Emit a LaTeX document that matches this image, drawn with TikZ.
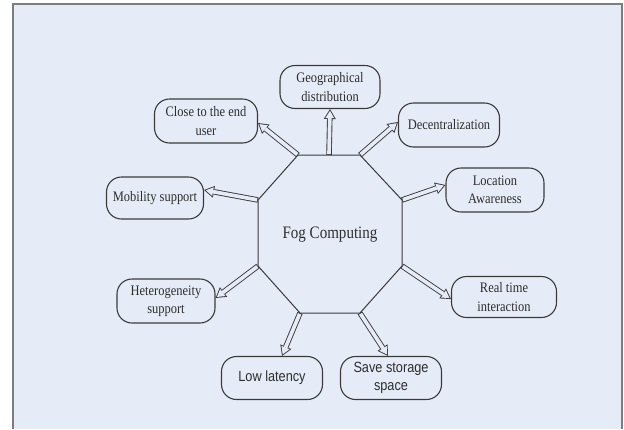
\documentclass[tikz,border=0pt]{standalone}
\usepackage{fontspec}
\setmainfont{Liberation Serif}[FakeStretch=0.86]
\newfontfamily\arialfont{Liberation Sans}[FakeStretch=0.86]
\usetikzlibrary{arrows.meta,positioning}
\definecolor{bgblue}{RGB}{230,236,247}
\definecolor{linegray}{RGB}{58,58,58}
\definecolor{textgray}{RGB}{45,45,45}
\definecolor{framegray}{RGB}{125,125,125}

\begin{document}
\begin{tikzpicture}[x=1pt,y=-1pt,
    feat/.style={draw=linegray,line width=1.1pt,rounded corners=15pt,minimum width=100pt,
      minimum height=43pt,align=center,inner sep=2pt,text=textgray,
      font=\fontsize{14.5}{18.5}\selectfont},
    sansfeat/.style={feat,font=\arialfont\fontsize{14.8}{18.5}\selectfont},
    fat/.style={line width=5.5pt,draw=linegray,-{Triangle[length=10pt,width=12pt,line width=0pt]},
      postaction={draw=bgblue,line width=3.7pt,shorten <=0.9pt,shorten >=1.75pt,
        -{Triangle[length=7.35pt,width=8.8pt,line width=0pt]}}}]
    \useasboundingbox (0,0) rectangle (624,429);
    \fill[white] (0,0) rectangle (624,429);
    \fill[bgblue] (13,4) rectangle (622,429);
    \draw[framegray,line width=2pt] (13,429) -- (13,4) -- (622,4) -- (622,429);

    \coordinate (c1) at (298,155);
    \coordinate (ct) at (329,155);
    \coordinate (c2) at (360,155);
    \coordinate (c3) at (402,200);
    \coordinate (c4) at (402,266);
    \coordinate (c5) at (360,313);
    \coordinate (c6) at (300,313);
    \coordinate (c7) at (258,266);
    \coordinate (c8) at (258,200);
    \draw[linegray,line width=1pt] (c1) -- (c2) -- (c3) -- (c4) -- (c5) -- (c6) -- (c7) -- (c8) -- cycle;
    \node[text=textgray,font=\fontsize{17.5}{20}\selectfont] (fog) at (330,235) {Fog Computing};

    \node[feat] (geo) at (330,87) {Geographical\\distribution};
    \node[feat,minimum width=103pt,minimum height=44pt] (close) at (206,121) {Close to the end\\user};
    \node[feat,minimum width=101pt,minimum height=44pt] (decent) at (449,125) {Decentralization};
    \node[feat,minimum width=98pt,minimum height=44pt] (loc) at (495,190) {Location\\Awareness};
    \node[feat,minimum width=97pt,minimum height=42pt] (mob) at (155,198) {Mobility support};
    \node[feat,minimum width=98pt,minimum height=44pt] (hetero) at (166,301) {Heterogeneity\\support};
    \node[feat,minimum width=105pt,minimum height=41pt] (realtime) at (504,297) {Real time\\interaction};
    \node[sansfeat,minimum width=101pt] (lowlat) at (272,378) {Low latency};
    \node[sansfeat,minimum width=101pt] (storage) at (391,378) {Save storage\\space};

    \draw[fat] (ct) -- (geo.south);
    \draw[fat] (c1) -- ([yshift=-2pt]close.east);
    \draw[fat] (c2) -- ([yshift=3pt]decent.west);
    \draw[fat] (c3) -- ([yshift=5pt]loc.west);
    \draw[fat] (c8) -- ([yshift=8pt]mob.east);
    \draw[fat] (c7) -- ([yshift=3pt]hetero.east);
    \draw[fat] (c4) -- ([yshift=-2pt]realtime.west);
    \draw[fat] (c6) -- ([xshift=10pt]lowlat.north);
    \draw[fat] (c5) -- ([xshift=-3pt]storage.north);
\end{tikzpicture}
\end{document}
